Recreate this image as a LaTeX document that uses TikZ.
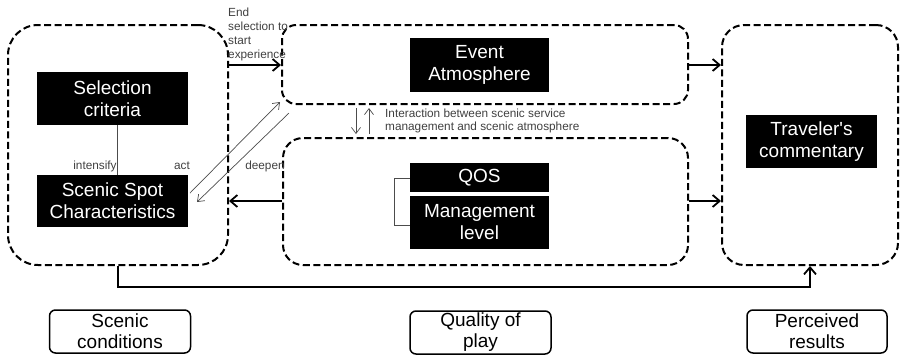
\documentclass[tikz,border=0pt]{standalone}
\usepackage{fontspec}
\setmainfont{Liberation Sans}
\usetikzlibrary{arrows.meta,calc}
\begin{document}
\begin{tikzpicture}[x=1pt,y=-1pt,
  dbox/.style={draw=black,line width=2pt,dash pattern=on 7pt off 3.5pt,rounded corners=#1},
  bbox/.style={fill=black,text=white,align=center,inner sep=0pt,font=\fontsize{19}{22}\selectfont},
  lbox/.style={draw=black,line width=1.5pt,rounded corners=6pt,align=center,inner sep=0pt,minimum width=141pt,minimum height=43pt,font=\fontsize{19}{21}\selectfont},
  small/.style={text=black!75,inner sep=0pt,align=left,font=\fontsize{11.8}{14}\selectfont},
  thick arrow/.style={line width=1.8pt,-{Straight Barb[length=7pt,width=12pt,line width=1.8pt]}},
  thin arrow/.style={draw=black!70,line width=0.7pt,-{Straight Barb[length=6pt,width=9pt,line width=0.7pt]}}
]
\useasboundingbox (0,0) rectangle (900,357);
% dashed groups
\node[dbox=30pt,minimum width=220pt,minimum height=240pt] (L) at (118,145) {};
\node[dbox=14pt,minimum width=406pt,minimum height=79pt] (E) at (485,64.5) {};
\node[dbox=20pt,minimum width=405pt,minimum height=127pt] (Q) at (485.5,201.5) {};
\node[dbox=22pt,minimum width=176pt,minimum height=240pt] (T) at (810,145) {};
% black boxes
\node[bbox,minimum width=151pt,minimum height=53pt] (sel) at (112.5,98.5) {Selection\\criteria};
\node[bbox,minimum width=151pt,minimum height=52pt] (spot) at (112.5,201) {Scenic Spot\\Characteristics};
\node[bbox,minimum width=139pt,minimum height=54pt] (ev) at (479.5,65) {Event\\Atmosphere};
\node[bbox,minimum width=139pt,minimum height=29pt] (qos) at (479.5,177.5) {QOS};
\node[bbox,minimum width=139pt,minimum height=53pt] (mgmt) at (479.5,222.5) {Management\\level};
\node[bbox,minimum width=131pt,minimum height=53pt] (trav) at (811.5,141.5) {Traveler\textquotesingle s\\commentary};
% bottom labels
\node[lbox] (c1) at (120,331.5) {Scenic\\conditions};
\node[lbox] (c2) at (480.5,332.5) {Quality of\\play};
\node[lbox,minimum width=140pt] (c3) at (817,331.5) {Perceived\\results};
% small labels
\node[small,anchor=west] (endsel) at (228,34) {End\\selection to\\start\\experience};
\node[small] (int) at (95,166) {intensify};
\node[small] (act) at (182,166) {act};
\node[small] (deep) at (265,166) {deepen};
\node[small,anchor=west,font=\fontsize{11.8}{12.5}\selectfont] (inter) at (385,121) {Interaction between scenic service\\management and scenic atmosphere};
% connectors
\draw[black!70,line width=0.7pt] ($(sel.south)+(4.5,0)$) -- ($(spot.north)+(4.5,0)$);
\draw[thick arrow] (L.east |- 0,65) -- (E.west |- 0,65);
\draw[thick arrow] (Q.west |- 0,201) -- (L.east |- 0,201);
\draw[thick arrow] (E.east |- 0,65) -- (T.west |- 0,65);
\draw[thick arrow] (Q.east |- 0,201) -- (T.west |- 0,201);
\coordinate (bl) at (118,287);
\coordinate (br) at (810,287);
\draw[thick arrow] (L.south) -- (bl) -- (br) -- (T.south);
% diagonals
\coordinate (d1s) at (190,193);
\coordinate (d1e) at (280,102);
\coordinate (d2s) at (289,113);
\coordinate (d2e) at (197,202);
\draw[thin arrow] (d1s) -- (d1e);
\draw[thin arrow] (d2s) -- (d2e);
% interaction arrows
\coordinate (ia1) at (356,108);
\coordinate (ib1) at (356,134);
\coordinate (ia2) at (369,134);
\coordinate (ib2) at (369,108);
\draw[thin arrow] (ia1) -- (ib1);
\draw[thin arrow] (ia2) -- (ib2);
% bracket
\draw[black!70,line width=0.7pt] (qos.west |- 0,178) -- (394,178) -- (394,225) -- (mgmt.west |- 0,225);
\end{tikzpicture}
\end{document}
